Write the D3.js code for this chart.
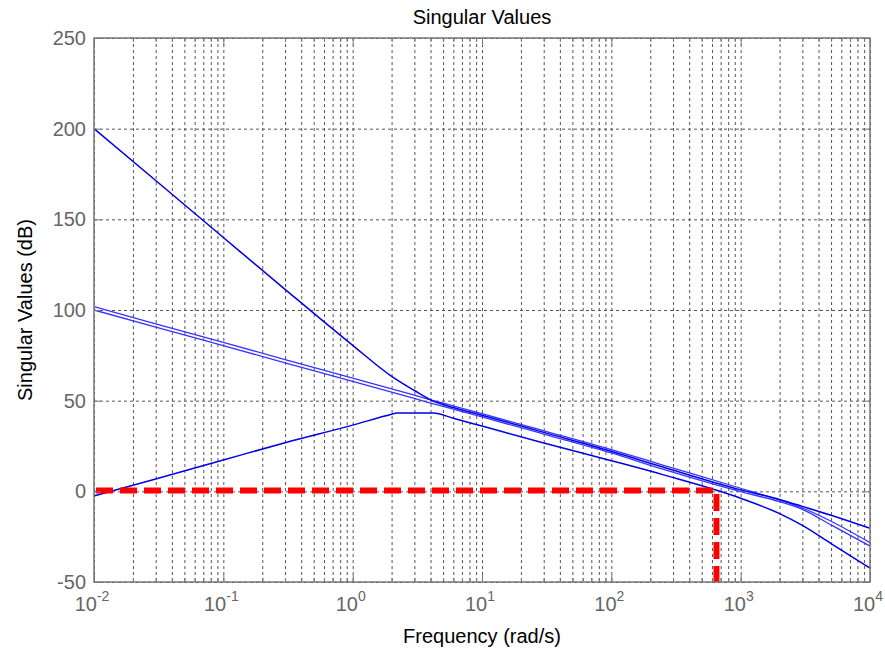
<!DOCTYPE html>
<html>
<head>
<meta charset="utf-8">
<script src="https://cdn.jsdelivr.net/npm/d3@7"></script>
<style>
  body { margin: 0; background: #fff; }
  svg { font-family: "Liberation Sans", Arial, sans-serif; }
</style>
</head>
<body>
<div id="chart"></div>
<script>
  // frequency grid (rad/s) shared by the singular value curves
  const freqs = [0.01, 0.03, 0.1, 0.3, 1, 2, 3, 4, 6, 10, 30, 100, 250, 1000, 2000, 3000, 5000, 10000]
  const sv1 = [200, 171.4, 140, 111.4, 80.5, 63.4, 55.6, 50.4, 46.2, 42, 32.5, 22.1, 13.4, 0.8, -4.5, -8.3, -13.2, -20.4]
  const sv2 = [101.8, 92.4, 82.1, 72.7, 62.4, 56.5, 53, 50.5, 47.1, 42.8, 33.4, 23, 14.5, 1.7, -4.8, -9.2, -16.5, -28.3]
  const sv3 = [100, 90.6, 80.3, 70.9, 60.6, 54.7, 51.2, 48.7, 45.3, 41, 31.6, 21.2, 12.2, -0.2, -5.7, -9.9, -18.5, -30.2]
  // lowest curve has its own frequencies (flat top between ~2.2 and ~4.2 rad/s)
  const freqsLow = [0.01, 0.03, 0.1, 0.3, 1, 2, 2.2, 4.2, 6, 10, 30, 100, 250, 1000, 2000, 3000, 5000, 10000]
  const sv4 = [-2.6, 6.8, 17.3, 26.8, 36.5, 42.5, 43.2, 43.2, 40.3, 36, 26.7, 16.9, 9.2, -3.8, -12.3, -18.8, -28.8, -42.4]

  // red bandwidth marker
  const markFreq = [0.01, 650, 650]
  const markDb = [0.5, 0.5, -50]

  const yTicks = [-50, 0, 50, 100, 150, 200, 250]
  const xMajor = [1e-2, 1e-1, 1e0, 1e1, 1e2, 1e3, 1e4]
  const xExp = ["-2", "-1", "0", "1", "2", "3", "4"]

  const width = 885, height = 652
  const margin = { top: 38, right: 15, bottom: 70, left: 94 }
  const plotW = width - margin.left - margin.right
  const plotH = height - margin.top - margin.bottom

  const x = d3.scaleLog().domain([1e-2, 1e4]).range([margin.left, margin.left + plotW])
  const y = d3.scaleLinear().domain([-50, 250]).range([margin.top + plotH, margin.top])

  // minor frequencies 2..9 in each decade
  const xMinor = []
  for (let k = -2; k < 4; k++) {
    for (let j = 2; j <= 9; j++) xMinor.push(j * Math.pow(10, k))
  }

  const svg = d3.select("#chart").append("svg")
    .attr("width", width)
    .attr("height", height)

  // grid
  svg.append("g")
    .attr("class", "grid")
    .attr("transform", `translate(0,${margin.top})`)
    .call(d3.axisBottom(x).tickValues(xMajor.concat(xMinor)).tickSize(plotH).tickFormat(""))
  svg.append("g")
    .attr("class", "grid")
    .attr("transform", `translate(${margin.left},0)`)
    .call(d3.axisLeft(y).tickValues(yTicks).tickSize(-plotW).tickFormat(""))
  svg.selectAll(".grid .domain").remove()
  svg.selectAll(".grid line")
    .attr("stroke", "#555")
    .attr("stroke-width", 1)
    .attr("stroke-dasharray", "3,3")

  // curves
  const line = d3.line()
    .x(d => x(d[0]))
    .y(d => y(d[1]))
    .curve(d3.curveMonotoneX)

  const curves = [
    { pts: d3.zip(freqs, sv2), color: "#3535ff", w: 1.3 },
    { pts: d3.zip(freqs, sv3), color: "#3535ff", w: 1.3 },
    { pts: d3.zip(freqs, sv1), color: "#0000e6", w: 1.5 },
    { pts: d3.zip(freqsLow, sv4), color: "#0000e6", w: 1.5 }
  ]
  svg.append("g").selectAll("path")
    .data(curves)
    .join("path")
    .attr("d", d => line(d.pts))
    .attr("fill", "none")
    .attr("stroke", d => d.color)
    .attr("stroke-width", d => d.w)

  // red dashed marker
  svg.append("path")
    .attr("d", d3.line().x(d => x(d[0])).y(d => y(d[1]))(d3.zip(markFreq, markDb)))
    .attr("fill", "none")
    .attr("stroke", "#ff0000")
    .attr("stroke-width", 6)
    .attr("stroke-dasharray", "17,7")
    .attr("stroke-dashoffset", -2)

  // box
  svg.append("rect")
    .attr("x", margin.left)
    .attr("y", margin.top)
    .attr("width", plotW)
    .attr("height", plotH)
    .attr("fill", "none")
    .attr("stroke", "#777")
    .attr("stroke-width", 1.5)

  // inward ticks on all four sides
  const tickColor = "#777"
  const xb = svg.append("g").attr("transform", `translate(0,${margin.top + plotH})`)
  xb.call(d3.axisBottom(x).tickValues(xMajor).tickSize(-7).tickFormat(""))
  xb.append("g").call(d3.axisBottom(x).tickValues(xMinor).tickSize(-4).tickFormat(""))
  const xt = svg.append("g").attr("transform", `translate(0,${margin.top})`)
  xt.call(d3.axisTop(x).tickValues(xMajor).tickSize(-7).tickFormat(""))
  xt.append("g").call(d3.axisTop(x).tickValues(xMinor).tickSize(-4).tickFormat(""))
  const yl = svg.append("g").attr("transform", `translate(${margin.left},0)`)
    .call(d3.axisLeft(y).tickValues(yTicks).tickSize(-7).tickPadding(8).tickFormat(d => String(d)))
  svg.append("g").attr("transform", `translate(${margin.left + plotW},0)`)
    .call(d3.axisRight(y).tickValues(yTicks).tickSize(-7).tickFormat(""))
  svg.selectAll(".domain").remove()
  svg.selectAll(".tick line").filter(function () { return !this.closest(".grid") })
    .attr("stroke", tickColor)

  yl.selectAll("text")
    .attr("fill", "#666")
    .style("font-size", "20px")
    .style("font-family", "'Liberation Sans', Arial, sans-serif")

  // x labels as 10 with superscript exponent
  const xl = svg.append("g")
  xMajor.forEach((v, i) => {
    const t = xl.append("text")
      .attr("x", x(v) - 2)
      .attr("y", margin.top + plotH + 29)
      .attr("text-anchor", "middle")
      .attr("fill", "#666")
      .style("font-size", "20px")
    t.append("tspan").text("10")
    t.append("tspan").attr("dy", -10).style("font-size", "14px").text(xExp[i])
  })

  svg.append("text")
    .attr("x", margin.left + plotW / 2)
    .attr("y", 24)
    .attr("text-anchor", "middle")
    .style("font-size", "20px")
    .text("Singular Values")

  svg.append("text")
    .attr("x", margin.left + plotW / 2)
    .attr("y", 643)
    .attr("text-anchor", "middle")
    .style("font-size", "20px")
    .text("Frequency (rad/s)")

  svg.append("text")
    .attr("transform", `translate(32,${margin.top + plotH / 2}) rotate(-90)`)
    .attr("text-anchor", "middle")
    .style("font-size", "20px")
    .text("Singular Values (dB)")
</script>
</body>
</html>
